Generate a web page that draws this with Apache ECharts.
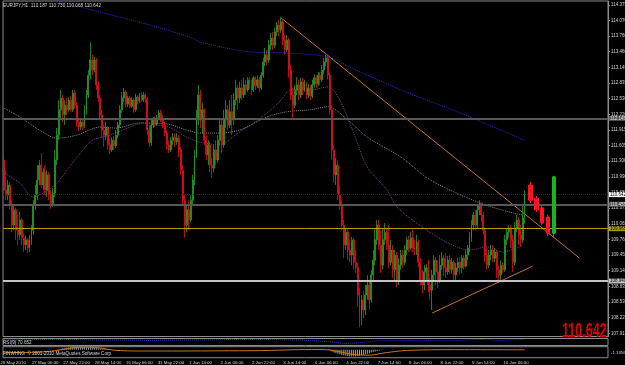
<!DOCTYPE html>
<html>
<head>
<meta charset="utf-8">
<title>EURJPY,H1</title>
<script src="https://cdn.jsdelivr.net/npm/echarts@6/dist/echarts.min.js"></script>
<style>
html, body { margin: 0; padding: 0; background: #000; }
#chart { width: 625px; height: 365px; }
</style>
</head>
<body>
<div id="chart"></div>
<script>
// price axis labels (bottom to top)
var priceTicks = [107.910, 108.220, 108.530, 108.835, 109.145, 109.450, 109.760, 110.065, 110.375,
  110.685, 110.990, 111.300, 111.605, 111.915, 112.220, 112.530, 112.835, 113.145, 113.460,
  113.760, 114.070, 114.375];
var timeLabels = ["26 May 2010", "27 May 06:00", "27 May 22:00", "28 May 14:00", "31 May 06:00",
  "31 May 22:00", "1 Jun 14:00", "2 Jun 06:00", "2 Jun 22:00", "3 Jun 14:00", "4 Jun 06:00",
  "4 Jun 22:00", "7 Jun 14:00", "8 Jun 06:00", "8 Jun 22:00", "9 Jun 14:00", "10 Jun 06:00"];
var barCount = 308;

// H1 bars [open, close, low, high]
var candles = [
  [111.32, 110.73, 110.63, 111.40], [110.73, 110.63, 110.53, 111.12], [110.63, 110.83, 110.53, 110.93],
  [110.83, 110.44, 110.34, 110.89], [110.44, 110.04, 109.90, 110.53], [110.04, 110.34, 109.94, 110.44],
  [110.34, 109.94, 109.75, 110.38], [109.94, 109.85, 109.65, 110.24], [109.85, 110.14, 109.75, 110.30],
  [110.14, 109.79, 109.65, 110.18], [109.79, 109.65, 109.51, 109.88], [109.65, 109.75, 109.55, 109.83],
  [109.75, 109.59, 109.49, 109.79], [109.59, 109.75, 109.51, 109.85], [109.75, 109.94, 109.65, 110.04],
  [109.94, 110.44, 109.85, 110.53], [110.44, 110.63, 110.34, 110.83], [110.63, 110.93, 110.53, 111.22],
  [110.93, 111.22, 110.83, 111.32], [111.22, 110.83, 110.77, 111.46], [110.83, 111.08, 110.73, 111.16],
  [111.08, 110.73, 110.63, 111.22], [110.73, 111.03, 110.59, 111.12], [111.03, 110.63, 110.53, 111.08],
  [110.63, 110.44, 110.36, 110.73], [110.44, 110.67, 110.40, 110.77], [110.67, 111.32, 110.59, 111.52],
  [111.32, 111.81, 111.22, 111.95], [111.81, 112.31, 111.71, 112.50], [112.31, 112.54, 112.11, 112.70],
  [112.54, 112.21, 112.07, 112.60], [112.21, 112.40, 112.01, 112.50], [112.40, 112.31, 112.21, 112.54],
  [112.31, 112.50, 112.27, 112.56], [112.50, 112.31, 112.27, 112.58], [112.31, 112.64, 112.27, 112.70],
  [112.64, 112.40, 112.34, 112.70], [112.40, 112.07, 111.97, 112.46], [112.07, 111.97, 111.89, 112.15],
  [111.97, 112.07, 111.91, 112.15], [112.07, 111.99, 111.91, 112.13], [111.99, 112.31, 111.95, 112.40],
  [112.31, 112.60, 112.21, 112.70], [112.60, 112.99, 112.54, 113.09], [112.99, 113.29, 112.90, 113.64],
  [113.29, 113.09, 112.99, 113.39], [113.09, 113.29, 113.05, 113.35], [113.29, 112.80, 112.70, 113.33],
  [112.80, 112.54, 112.46, 112.86], [112.54, 112.21, 112.11, 112.60], [112.21, 111.91, 111.77, 112.31],
  [111.91, 111.81, 111.58, 112.01], [111.81, 111.95, 111.71, 112.07], [111.95, 111.62, 111.52, 111.99],
  [111.62, 111.52, 111.44, 111.75], [111.52, 111.71, 111.48, 111.77], [111.71, 111.60, 111.52, 111.79],
  [111.60, 111.81, 111.56, 111.91], [111.81, 112.01, 111.75, 112.07], [112.01, 112.31, 111.95, 112.40],
  [112.31, 112.54, 112.25, 112.66], [112.54, 112.66, 112.46, 112.74], [112.66, 112.42, 112.36, 112.70],
  [112.42, 112.54, 112.36, 112.58], [112.54, 112.38, 112.34, 112.58], [112.38, 112.50, 112.34, 112.56],
  [112.50, 112.31, 112.25, 112.54], [112.31, 112.56, 112.27, 112.62], [112.56, 112.48, 112.42, 112.60],
  [112.48, 112.58, 112.44, 112.64], [112.58, 112.50, 112.46, 112.66], [112.50, 112.60, 112.46, 112.66],
  [112.60, 112.52, 112.44, 112.64], [112.52, 111.91, 111.81, 112.56], [111.91, 111.66, 111.58, 112.01],
  [111.66, 112.01, 111.60, 112.11], [112.01, 112.11, 111.95, 112.17], [112.11, 112.03, 111.97, 112.17],
  [112.03, 112.15, 111.99, 112.21], [112.15, 112.25, 112.11, 112.31], [112.25, 112.15, 112.07, 112.31],
  [112.15, 112.01, 111.95, 112.21], [112.01, 111.85, 111.79, 112.07], [111.85, 111.62, 111.52, 111.91],
  [111.62, 111.52, 111.46, 111.71], [111.52, 111.71, 111.48, 111.77], [111.71, 111.77, 111.62, 111.85],
  [111.77, 111.68, 111.58, 111.85], [111.68, 111.75, 111.62, 111.85], [111.75, 111.52, 111.38, 111.81],
  [111.52, 111.12, 111.03, 111.58], [111.12, 110.53, 110.44, 111.22], [110.53, 110.04, 109.79, 110.63],
  [110.04, 110.34, 109.90, 110.44], [110.34, 110.14, 109.94, 110.53], [110.14, 110.53, 110.10, 110.63],
  [110.53, 110.93, 110.44, 111.03], [110.93, 111.42, 110.83, 111.52], [111.42, 112.11, 111.36, 112.31],
  [112.11, 112.60, 112.01, 112.80], [112.60, 112.11, 111.95, 112.70], [112.11, 112.31, 111.85, 112.44],
  [112.31, 111.71, 111.62, 112.34], [111.71, 111.42, 111.32, 111.81], [111.42, 111.62, 111.22, 111.71],
  [111.62, 111.22, 111.08, 111.68], [111.22, 111.16, 110.97, 111.36], [111.16, 111.52, 111.08, 111.62],
  [111.52, 111.32, 111.22, 111.71], [111.32, 111.71, 111.26, 111.81], [111.71, 112.01, 111.62, 112.15],
  [112.01, 111.62, 111.46, 112.11], [111.62, 112.11, 111.56, 112.31], [112.11, 112.31, 111.95, 112.50],
  [112.31, 112.01, 111.91, 112.40], [112.01, 112.27, 111.95, 112.50], [112.27, 112.11, 111.81, 112.60],
  [112.11, 112.50, 112.01, 112.64], [112.50, 112.74, 112.40, 112.90], [112.74, 112.54, 112.31, 112.80],
  [112.54, 112.74, 112.44, 112.86], [112.74, 112.60, 112.50, 112.90], [112.60, 112.80, 112.54, 112.94],
  [112.80, 112.70, 112.60, 112.90], [112.70, 112.90, 112.66, 112.95], [112.90, 112.80, 112.74, 112.95],
  [112.80, 112.70, 112.60, 112.90], [112.70, 112.94, 112.66, 112.97], [112.94, 112.78, 112.70, 112.97],
  [112.78, 112.90, 112.74, 112.99], [112.90, 112.74, 112.66, 112.95], [112.74, 112.99, 112.70, 113.05],
  [112.99, 113.25, 112.94, 113.33], [113.25, 113.39, 113.17, 113.53], [113.39, 113.29, 113.19, 113.49],
  [113.29, 113.58, 113.23, 113.68], [113.58, 113.72, 113.49, 113.82], [113.72, 113.58, 113.49, 113.84],
  [113.58, 113.84, 113.53, 113.92], [113.84, 113.98, 113.76, 114.04], [113.98, 113.88, 113.76, 114.08],
  [113.88, 114.04, 113.82, 114.14], [114.04, 113.68, 113.58, 114.08], [113.68, 113.49, 113.39, 113.78],
  [113.49, 113.68, 113.45, 113.78], [113.68, 113.09, 112.94, 113.72], [113.09, 112.60, 112.50, 113.19],
  [112.60, 112.40, 112.11, 112.74], [112.40, 112.70, 112.34, 112.80], [112.70, 112.80, 112.60, 112.95],
  [112.80, 112.60, 112.50, 112.90], [112.60, 112.86, 112.54, 112.94], [112.86, 112.70, 112.60, 112.94],
  [112.70, 112.82, 112.66, 112.90], [112.82, 112.60, 112.52, 112.86], [112.60, 112.74, 112.54, 112.82],
  [112.74, 112.58, 112.50, 112.80], [112.58, 112.80, 112.54, 112.90], [112.80, 112.94, 112.74, 113.01],
  [112.94, 112.82, 112.74, 112.99], [112.82, 112.99, 112.78, 113.05], [112.99, 112.90, 112.80, 113.05],
  [112.90, 113.09, 112.86, 113.19], [113.09, 113.25, 113.01, 113.33], [113.25, 113.33, 113.17, 113.39],
  [113.33, 112.99, 112.90, 113.37], [112.99, 112.31, 112.21, 113.05], [112.31, 111.52, 111.32, 112.40],
  [111.52, 111.03, 110.87, 111.62], [111.03, 111.22, 110.83, 111.36], [111.22, 110.63, 110.53, 111.32],
  [110.63, 110.44, 110.34, 110.83], [110.44, 110.04, 109.94, 110.53], [110.04, 109.65, 109.39, 110.14],
  [109.65, 109.90, 109.55, 109.98], [109.90, 109.55, 109.35, 109.98], [109.55, 109.45, 109.31, 109.75],
  [109.45, 109.75, 109.25, 109.81], [109.75, 109.31, 109.16, 109.79], [109.31, 109.20, 109.10, 109.55],
  [109.20, 108.66, 108.43, 109.29], [108.66, 108.27, 108.03, 108.80], [108.27, 108.57, 108.07, 108.66],
  [108.57, 108.37, 108.21, 108.76], [108.37, 108.66, 108.27, 108.86], [108.66, 108.86, 108.57, 109.06],
  [108.86, 108.57, 108.37, 108.92], [108.57, 109.06, 108.51, 109.16], [109.06, 109.35, 108.96, 109.55],
  [109.35, 109.75, 109.25, 109.98], [109.75, 110.04, 109.65, 110.14], [110.04, 109.65, 109.55, 110.14],
  [109.65, 109.25, 109.10, 109.94], [109.25, 109.75, 109.16, 109.98], [109.75, 109.90, 109.65, 110.08],
  [109.90, 109.65, 109.55, 109.98], [109.65, 109.31, 109.20, 110.04], [109.31, 109.55, 109.25, 109.75],
  [109.55, 109.16, 109.00, 109.65], [109.16, 109.45, 108.96, 109.55], [109.45, 108.96, 108.82, 109.51],
  [108.96, 109.25, 108.86, 109.39], [109.25, 109.45, 109.16, 109.55], [109.45, 109.31, 109.20, 109.55],
  [109.31, 109.55, 109.25, 109.65], [109.55, 109.75, 109.45, 109.81], [109.75, 109.59, 109.51, 109.83],
  [109.59, 109.79, 109.55, 109.90], [109.79, 109.59, 109.51, 109.94], [109.59, 109.55, 109.45, 109.75],
  [109.55, 109.71, 109.45, 109.85], [109.71, 109.31, 109.20, 109.75], [109.31, 108.96, 108.86, 109.39],
  [108.96, 108.86, 108.70, 109.16], [108.86, 109.12, 108.76, 109.25], [109.12, 109.20, 108.96, 109.27],
  [109.20, 108.86, 108.72, 109.35], [108.86, 108.76, 108.57, 109.00], [108.76, 109.06, 108.37, 109.16],
  [109.06, 109.35, 108.92, 109.45], [109.35, 109.12, 108.86, 109.41], [109.12, 108.96, 108.80, 109.35],
  [108.96, 109.25, 108.90, 109.45], [109.25, 109.39, 109.16, 109.51], [109.39, 109.20, 109.04, 109.45],
  [109.20, 109.12, 109.00, 109.49], [109.12, 109.35, 109.06, 109.43], [109.35, 109.16, 109.08, 109.45],
  [109.16, 109.31, 109.08, 109.39], [109.31, 109.06, 108.96, 109.35], [109.06, 109.20, 108.96, 109.29],
  [109.20, 109.31, 109.12, 109.39], [109.31, 109.20, 109.06, 109.41], [109.20, 109.39, 109.10, 109.45],
  [109.39, 109.23, 109.16, 109.45], [109.23, 109.45, 109.20, 109.55], [109.45, 109.59, 109.35, 109.65],
  [109.59, 109.79, 109.51, 109.90], [109.79, 110.04, 109.71, 110.14], [110.04, 110.24, 109.94, 110.30],
  [110.24, 110.04, 109.94, 110.34], [110.04, 110.34, 109.98, 110.44], [110.34, 110.44, 110.24, 110.53],
  [110.44, 110.24, 110.10, 110.49], [110.24, 109.94, 109.85, 110.30], [109.94, 109.45, 109.31, 109.98],
  [109.45, 109.25, 109.16, 109.59], [109.25, 109.45, 109.20, 109.55], [109.45, 109.55, 109.35, 109.65],
  [109.55, 109.39, 109.31, 109.65], [109.39, 109.51, 109.31, 109.59], [109.51, 109.16, 109.00, 109.55],
  [109.16, 109.06, 108.94, 109.25], [109.06, 109.25, 108.96, 109.35], [109.25, 109.16, 109.10, 109.31],
  [109.16, 109.75, 109.12, 109.85], [109.75, 109.90, 109.65, 109.98], [109.90, 109.98, 109.79, 110.04],
  [109.98, 109.75, 109.59, 110.04], [109.75, 109.31, 109.12, 109.85], [109.31, 109.98, 109.25, 110.10],
  [109.98, 110.14, 109.90, 110.24], [110.14, 109.85, 109.65, 110.20], [109.85, 109.75, 109.61, 110.04],
  [109.75, 110.18, 109.69, 110.44], [110.187, 110.642, 110.068, 110.730]
];

// wide projection candles at the right edge [index, open, close, low, high]
var bigCandles = [
  [268, 110.83, 110.53, 110.47, 110.89],
  [271, 110.57, 110.34, 110.30, 110.61],
  [274, 110.38, 110.08, 110.04, 110.42],
  [277, 110.20, 109.88, 109.83, 110.24],
  [280, 109.88, 110.99, 109.81, 111.01]
];

// moving averages [bar index, price]
var maBlue = [[20, 114.60], [30, 114.43], [49, 114.23], [74, 113.98], [96, 113.72], [100, 113.64],
  [125, 113.45], [142, 113.43], [165, 113.35], [176, 113.15], [202, 112.70], [232, 112.25], [265, 111.71]];
var maGray = [[0, 112.34], [8, 112.17], [18, 111.91], [27, 111.75], [37, 111.81], [49, 111.97],
  [57, 111.95], [69, 112.05], [83, 112.03], [93, 111.91], [100, 111.85], [108, 111.85], [120, 111.91],
  [134, 112.17], [144, 112.27], [156, 112.31], [165, 112.37], [175, 112.11], [185, 111.77],
  [202, 111.38], [217, 110.93], [242, 110.48], [259, 110.28], [264, 110.24]];
var maPurple = [[0, 111.07], [8, 110.87], [15, 110.59], [20, 110.67], [27, 110.87], [32, 111.12],
  [39, 111.46], [45, 111.71], [54, 111.81], [63, 111.95], [71, 112.05], [78, 112.01], [85, 111.95],
  [93, 111.77], [100, 111.67], [110, 111.62], [119, 111.85], [127, 112.05], [134, 112.25],
  [141, 112.50], [146, 112.70], [156, 112.70], [165, 112.76], [171, 112.50], [178, 111.85],
  [185, 111.18], [195, 110.73], [200, 110.40], [213, 110.00], [226, 109.69], [237, 109.55],
  [246, 109.61], [254, 109.51], [261, 109.59], [264, 109.65]];

// horizontal levels and bid
var levels = [112.145, 110.455, 109.965, 108.940];
var levelColors = ['#575757', '#575757', '#b0a000', '#c4c4c4'];
var levelWidths = [2, 2, 1, 2];
var bid = 110.642;

// trend lines [[index, price], [index, price]]
var trendUpper = [[141, 114.12], [293, 109.39]];
var trendLower = [[218, 108.31], [269, 109.23]];

// sub windows
var rsiLine = [[0, 80], [29, 87], [49, 80], [74, 73], [100, 80], [125, 87], [151, 80], [166, 53],
  [174, 27], [181, 40], [191, 67], [212, 73], [227, 67], [242, 87], [252, 73], [265, 87]];
var rsiNow = 67;
var histStart1 = 27;
var hist1 = [0.2, 0.4, 0.6, 0.8, 1.0, 1.1, 1.2, 1.3, 1.4, 1.4, 1.5, 1.5, 1.5, 1.4, 1.4, 1.3, 1.3, 1.2,
  1.1, 1.0, 0.9, 0.8, 0.7, 0.6, 0.5, 0.4, 0.3, 0.2];
var histStart2 = 165;
var hist2 = [-0.2, -0.5, -0.9, -1.3, -1.7, -2.0, -2.3, -2.6, -2.8, -3.0, -3.1, -3.2, -3.3, -3.3, -3.2,
  -3.1, -3.0, -2.8, -2.6, -2.3, -2.0, -1.7, -1.4, -1.1, -0.8, -0.6, -0.4, -0.2, -0.1];
var macdSignal = [[0, -1.4], [15, -1.3], [27, -0.3], [35, 1.0], [42, 1.4], [50, 0.8], [56, -0.2],
  [70, -0.6], [90, -0.6], [110, -0.5], [130, -0.4], [150, 0.1], [163, 0.2], [170, -0.8], [178, -2.4],
  [186, -2.7], [194, -1.5], [205, -0.3], [230, 0.1], [265, 0.0]];
var macdAxisLabels = [[0.3, '0.0047'], [-1.5, '-1.1356']];

var upColor = '#22a022', downColor = '#ea0c1c';
var bigUp = '#1cb41c', bigDown = '#ff1424';

var cats = [];
for (var i = 0; i < barCount; i++) cats.push(String(i));

// colour every bar explicitly (green when close >= open)
var candleData = candles.map(function (c) {
  var col = c[1] >= c[0] ? upColor : downColor;
  return { value: c, itemStyle: { color: col, color0: col, borderColor: col, borderColor0: col } };
});

var bigData = cats.map(function () { return '-'; });
bigCandles.forEach(function (c) {
  var col = c[2] >= c[1] ? bigUp : bigDown;
  bigData[c[0]] = { value: [c[1], c[2], c[3], c[4]],
    itemStyle: { color: col, color0: col, borderColor: col, borderColor0: col } };
});

var histData = cats.map(function () { return '-'; });
hist1.forEach(function (v, k) { histData[histStart1 + k] = v; });
hist2.forEach(function (v, k) { histData[histStart2 + k] = v; });

var axisFont = "'Liberation Sans', Arial, sans-serif";
var txt = '#d4d4d4';
var frame = '#8c8c8c';

var chart = echarts.init(document.getElementById('chart'));
chart.setOption({
  backgroundColor: '#000',
  animation: false,
  title: [
    { text: 'EURJPY,H1  110.187 110.730 110.068 110.642', left: 3, top: 3, padding: 0,
      textStyle: { color: txt, fontSize: 4.7, fontWeight: 'normal', fontFamily: axisFont } },
    { text: 'RSI(9) 70.652', left: 3, top: 340, padding: 0,
      textStyle: { color: txt, fontSize: 4.6, fontWeight: 'normal', fontFamily: axisFont } },
    { text: 'FINWHNG  \u00a9 2001-2010 MetaQuotes Software Corp.', left: 3, top: 351, padding: 0,
      textStyle: { color: txt, fontSize: 4.6, fontWeight: 'normal', fontFamily: axisFont } }
  ],
  graphic: [
    { type: 'text', x: 562, y: 321, z: 50, scaleX: 0.6,
      style: { text: '110.642', fill: '#e00000', font: 'bold 21px ' + axisFont } }
  ],
  grid: [
    { left: 3, right: 17, top: 1, height: 335.5, show: true, borderColor: frame, borderWidth: 1, outerBoundsMode: 'none' },
    { left: 3, right: 17, top: 338.5, height: 7, show: true, borderColor: frame, borderWidth: 1, outerBoundsMode: 'none' },
    { left: 3, right: 17, top: 346.7, height: 11, show: true, borderColor: frame, borderWidth: 1, outerBoundsMode: 'none' },
    { left: -0.5, right: 20.5, top: 358, height: 1, outerBoundsMode: 'none' }
  ],
  xAxis: [0, 1, 2, 3].map(function (g) {
    return {
      type: 'category', gridIndex: g, data: cats, boundaryGap: true,
      axisLine: { show: false }, axisTick: { show: false }, splitLine: { show: false },
      axisLabel: g === 3 ? {
        show: true, interval: 15, align: 'left', margin: 1.5, color: txt, fontSize: 4.4, fontFamily: axisFont,
        formatter: function (v, idx) { return timeLabels[Math.round(idx / 16)] || ''; }
      } : { show: false }
    };
  }),
  yAxis: [
    {
      type: 'value', gridIndex: 0, position: 'right', min: 107.848, max: 114.450,
      splitLine: { show: false },
      axisLine: { show: true, lineStyle: { color: frame } },
      axisTick: { show: true, length: 2, lineStyle: { color: frame }, customValues: priceTicks },
      axisLabel: { show: true, customValues: priceTicks, margin: 3, color: txt, fontSize: 4.5, fontFamily: axisFont,
        formatter: function (v) { return v.toFixed(3); } }
    },
    { type: 'value', gridIndex: 1, position: 'right', min: 0, max: 100,
      splitLine: { show: false }, axisLine: { show: false }, axisTick: { show: false }, axisLabel: { show: false } },
    { type: 'value', gridIndex: 2, position: 'right', min: -4, max: 1.6,
      splitLine: { show: false }, axisLine: { show: false }, axisTick: { show: false },
      axisLabel: { show: true, margin: 3, color: txt, fontSize: 4.3, fontFamily: axisFont,
        customValues: macdAxisLabels.map(function (a) { return a[0]; }),
        formatter: function (v) {
          var best = macdAxisLabels[0];
          macdAxisLabels.forEach(function (a) { if (Math.abs(a[0] - v) < Math.abs(best[0] - v)) best = a; });
          return best[1];
        } } },
    { type: 'value', gridIndex: 3, show: false }
  ],
  series: [
    { name: 'blueMA', type: 'line', xAxisIndex: 0, yAxisIndex: 0, data: maBlue, showSymbol: false, smooth: 0.3,
      lineStyle: { color: '#2a2ad0', width: 1, type: 'dotted' }, z: 2 },
    { name: 'grayMA', type: 'line', xAxisIndex: 0, yAxisIndex: 0, data: maGray, showSymbol: false, smooth: 0.3,
      lineStyle: { color: '#8a8a8a', width: 1, type: 'dotted' }, z: 2 },
    { name: 'purpleMA', type: 'line', xAxisIndex: 0, yAxisIndex: 0, data: maPurple, showSymbol: false, smooth: 0.3,
      lineStyle: { color: '#8a3a9a', width: 1, type: 'dotted' }, z: 2 },
    { name: 'levels', type: 'line', xAxisIndex: 0, yAxisIndex: 0, data: [], z: 1,
      markLine: {
        symbol: 'none', silent: true, animation: false,
        data: levels.map(function (p, k) {
          return { yAxis: p, lineStyle: { color: levelColors[k], width: levelWidths[k], type: 'solid' },
            label: { show: true, position: 'end', distance: 1, formatter: p.toFixed(3), fontSize: 4.5, fontFamily: axisFont,
              color: k >= 2 ? '#000' : '#e0e0e0', backgroundColor: levelColors[k], padding: [0, 1] } };
        }).concat([{ yAxis: bid, lineStyle: { color: '#8a0000', width: 1, type: 'dotted' },
          label: { show: true, position: 'end', distance: 1, formatter: bid.toFixed(3), fontSize: 4.5, fontFamily: axisFont,
            color: '#000', backgroundColor: '#ffffff', padding: [0, 1] } }])
      } },
    { name: 'trendUpper', type: 'line', xAxisIndex: 0, yAxisIndex: 0, data: trendUpper, showSymbol: false,
      lineStyle: { color: '#c8741a', width: 1 }, z: 3 },
    { name: 'trendLower', type: 'line', xAxisIndex: 0, yAxisIndex: 0, data: trendLower, showSymbol: false,
      lineStyle: { color: '#c8741a', width: 1 }, z: 3 },
    { name: 'bars', type: 'candlestick', xAxisIndex: 0, yAxisIndex: 0, data: candleData, barWidth: 1.4,
      large: false, progressive: 0, z: 4,
      itemStyle: { borderWidth: 0.8 } },
    { name: 'big', type: 'candlestick', xAxisIndex: 0, yAxisIndex: 0, data: bigData, barWidth: 4,
      large: false, progressive: 0, z: 5, itemStyle: { borderWidth: 1 } },
    { name: 'rsi', type: 'line', xAxisIndex: 1, yAxisIndex: 1, data: rsiLine, showSymbol: false,
      lineStyle: { color: '#2a2ad0', width: 1, type: 'dotted' },
      markLine: { symbol: 'none', silent: true, animation: false,
        data: [{ yAxis: rsiNow, lineStyle: { opacity: 0 },
          label: { show: true, position: 'end', distance: 1, formatter: '70.652', fontSize: 4.3, fontFamily: axisFont,
            color: '#000', backgroundColor: '#ffffff', padding: [0, 1] } }] } },
    { name: 'macdHist', type: 'bar', xAxisIndex: 2, yAxisIndex: 2, data: histData, barWidth: 1,
      itemStyle: { color: '#a0a0a0' } },
    { name: 'macdSignal', type: 'line', xAxisIndex: 2, yAxisIndex: 2, data: macdSignal, showSymbol: false, smooth: 0.3,
      lineStyle: { color: '#c8741a', width: 1 } }
  ]
});
</script>
</body>
</html>
